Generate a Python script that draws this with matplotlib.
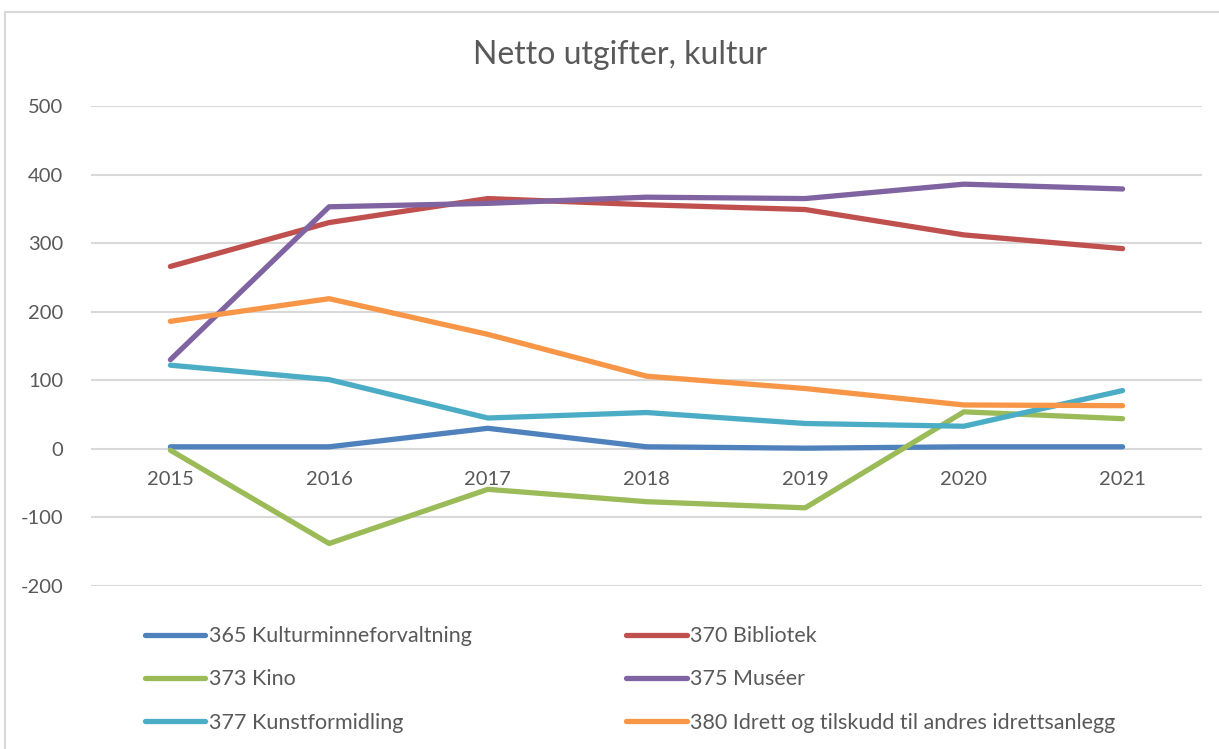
import matplotlib.pyplot as plt
from matplotlib.patches import Rectangle

years = ["2015", "2016", "2017", "2018", "2019", "2020", "2021"]

kulturminne = [3, 3, 30, 3, 1, 3, 3]
bibliotek = [266, 330, 365, 356, 349, 312, 292]
kino = [-2, -138, -59, -77, -86, 54, 44]
museer = [130, 353, 358, 367, 365, 386, 379]
kunstformidling = [122, 101, 45, 53, 37, 33, 85]
idrett = [186, 219, 167, 106, 88, 64, 63]

series = [
    ("365 Kulturminneforvaltning", kulturminne, "#4F81BD"),
    ("370 Bibliotek", bibliotek, "#C0504D"),
    ("373 Kino", kino, "#9BBB59"),
    ("375 Muséer", museer, "#8064A2"),
    ("377 Kunstformidling", kunstformidling, "#4BACC6"),
    ("380 Idrett og tilskudd til andres idrettsanlegg", idrett, "#F79646"),
]

plt.rcParams['font.family'] = ['Lato', 'DejaVu Sans']
plt.rcParams['axes.unicode_minus'] = False
text_col = "#595959"

fig = plt.figure(figsize=(12.19, 7.49), dpi=100)
ax = fig.add_axes([0.0747, 0.2176, 0.9113, 0.6409])

# chart area border
fig.patches.append(Rectangle((5 / 1219, -0.05), 1.2, 1 - 12 / 749 + 0.05,
                             transform=fig.transFigure, fill=False,
                             edgecolor="#D9D9D9", linewidth=1.5))

x = list(range(len(years)))
lines = {}
for name, vals, col in series:
    ln, = ax.plot(x, vals, color=col, linewidth=3.8, label=name,
                  solid_capstyle='round', solid_joinstyle='round')
    lines[name] = ln

ax.set_xlim(-0.5, len(years) - 0.5)
ax.set_ylim(-200, 500)
ax.set_yticks(range(-200, 501, 100))
ax.yaxis.grid(True, color="#D9D9D9", linewidth=1.5)
ax.set_axisbelow(True)
for s in ax.spines.values():
    s.set_visible(False)
ax.tick_params(axis='y', length=0, pad=20, labelsize=14.5, labelcolor=text_col)

ax.set_xticks([])
for xi, yr in zip(x, years):
    ax.annotate(yr, (xi, 0), xytext=(0, -31), textcoords='offset pixels',
                ha='center', va='center', fontsize=14.5, color=text_col)

fig.text(0.509, 0.927, "Netto utgifter, kultur", ha='center', va='center',
         fontsize=23, color=text_col)

order = [0, 2, 4, 1, 3, 5]
handles = [lines[series[i][0]] for i in order]
labels = [series[i][0] for i in order]
leg = fig.legend(handles, labels, ncol=2, loc='upper left',
                 bbox_to_anchor=(0.119, 0.164), frameon=False, fontsize=15.5,
                 handlelength=2.8, handletextpad=0.15, labelspacing=1.08,
                 columnspacing=7.2, borderaxespad=0, borderpad=0)
for t in leg.get_texts():
    t.set_color(text_col)

fig.savefig("out.png", dpi=100)
